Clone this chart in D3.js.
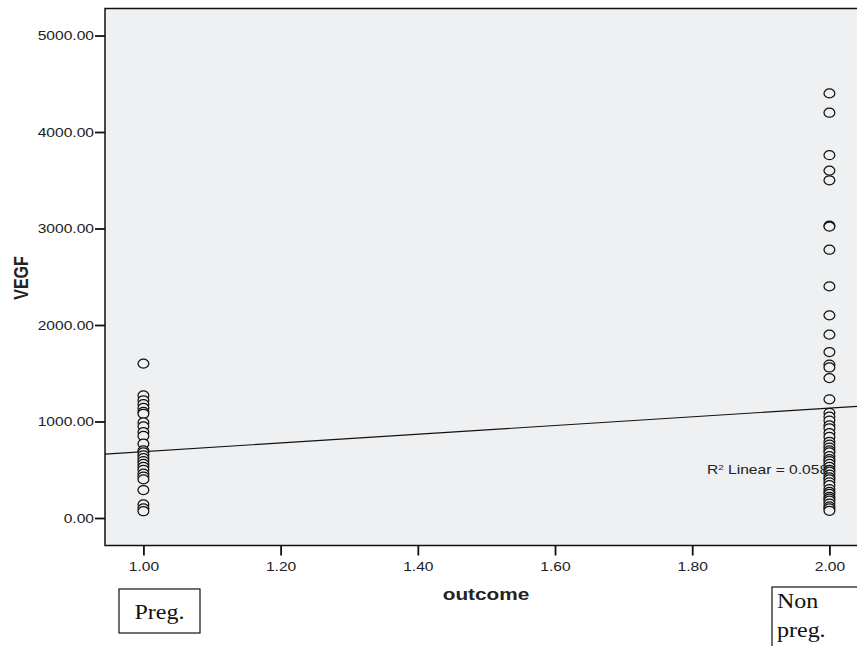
<!DOCTYPE html>
<html>
<head>
<meta charset="utf-8">
<script src="https://cdn.jsdelivr.net/npm/d3@7"></script>
<style>
  body { margin: 0; background: #fff; }
  .tick text { font-family: "Liberation Sans", Arial, sans-serif; font-size: 13px; fill: #222; }
  .axis-label { font-family: "Liberation Sans", Arial, sans-serif; font-weight: bold; font-size: 16px; fill: #222; }
  .box-text { font-family: "Liberation Serif", "Times New Roman", serif; font-size: 20px; fill: #111; }
</style>
</head>
<body>
<div id="chart"></div>
<script>
// DATA
const outcomeTicks = [1.0, 1.2, 1.4, 1.6, 1.8, 2.0];
const vegfTicks = [0, 1000, 2000, 3000, 4000, 5000];

// VEGF values, outcome = 1 (Preg.)
const vegfPreg = [1600, 1270, 1220, 1180, 1140, 1100, 1080, 990, 950, 890, 850, 770,
    700, 680, 650, 620, 590, 560, 530, 500, 460, 430, 400, 290, 140, 100, 70];

// VEGF values, outcome = 2 (Non preg.)
const vegfNonPreg = [4400, 4200, 3760, 3600, 3500, 3030, 3020, 2780, 2400, 2100, 1900,
    1720, 1590, 1560, 1450, 1230, 1090, 1050, 1010, 960, 930, 880, 840, 790, 760, 730,
    700, 680, 640, 610, 590, 560, 530, 500, 480, 450, 420, 400, 370, 340, 300, 270, 250,
    220, 200, 180, 150, 120, 100, 75];

// fit line (value at outcome 1 and 2)
const fitX = [1, 2];
const fitY = [687, 1139];
const r2Text = "0.058";

// SIZES
const margin = { top: 8.5, left: 105 };
const width = 770;
const height = 537;
const bg = "#eff0f2";
const sx = 1.2; // the original figure is stretched sideways

const svg = d3.select("#chart")
    .append("svg")
    .attr("width", 857)
    .attr("height", 646);

const g = svg.append("g")
    .attr("transform", `translate(${margin.left},${margin.top})`);

// SCALES
const x = d3.scaleLinear()
    .domain([0.944, 0.944 + width / 686])
    .range([0, width]);

const y = d3.scaleLinear()
    .domain([-285, 5280])
    .range([height, 0]);

// plot background
g.append("rect")
    .attr("width", width)
    .attr("height", height)
    .attr("fill", bg);

g.append("clipPath").attr("id", "clip")
    .append("rect").attr("width", width).attr("height", height);

// fit line
const slope = (fitY[1] - fitY[0]) / (fitX[1] - fitX[0]);
const [x0, x1] = x.domain();
g.append("line")
    .attr("clip-path", "url(#clip)")
    .attr("x1", x(x0)).attr("y1", y(fitY[0] + slope * (x0 - fitX[0])))
    .attr("x2", x(x1)).attr("y2", y(fitY[0] + slope * (x1 - fitX[0])))
    .attr("stroke", "#111")
    .attr("stroke-width", 1.1);

// R2 label
const r2 = svg.append("text")
    .attr("transform", `translate(707,474) scale(1.3,1)`)
    .attr("font-family", "Liberation Sans, Arial, sans-serif")
    .attr("font-size", 12)
    .attr("fill", "#222");
r2.append("tspan").text("R");
r2.append("tspan").attr("font-size", 7.5).attr("dy", -4.5).text("2");
r2.append("tspan").attr("dy", 4.5).text(" Linear = " + r2Text);

// points
const points = vegfPreg.map(v => ({ o: 1, v }))
    .concat(vegfNonPreg.map(v => ({ o: 2, v })));

g.selectAll(".pt")
    .data(points)
    .enter()
    .append("ellipse")
    .attr("class", "pt")
    .attr("cx", d => x(d.o))
    .attr("cy", d => y(d.v))
    .attr("rx", 5.4)
    .attr("ry", 4.5)
    .attr("fill", bg)
    .attr("stroke", "#111")
    .attr("stroke-width", 1.25);

// frame
g.append("rect")
    .attr("width", width)
    .attr("height", height)
    .attr("fill", "none")
    .attr("stroke", "#111")
    .attr("stroke-width", 1.5);

// AXES
const yAxis = g.append("g")
    .call(d3.axisLeft(y)
        .tickValues(vegfTicks)
        .tickSize(10)
        .tickFormat(d3.format(".2f")));
yAxis.select(".domain").remove();
yAxis.selectAll("line").attr("stroke", "#111").attr("stroke-width", 1.8);
yAxis.selectAll("text")
    .attr("x", 0)
    .attr("transform", `translate(-11,0) scale(${sx},1)`);

const xAxis = g.append("g")
    .attr("transform", `translate(0,${height})`)
    .call(d3.axisBottom(x)
        .tickValues(outcomeTicks)
        .tickSize(10)
        .tickPadding(6)
        .tickFormat(d3.format(".2f")));
xAxis.select(".domain").remove();
xAxis.selectAll("line").attr("stroke", "#111").attr("stroke-width", 1.8);
xAxis.selectAll("text")
    .attr("transform", `scale(${sx},1)`);

// LABELS
svg.append("text")
    .attr("class", "axis-label")
    .attr("transform", `translate(28,278) scale(1.3,1) rotate(-90)`)
    .attr("text-anchor", "middle")
    .text("VEGF");

svg.append("text")
    .attr("class", "axis-label")
    .attr("transform", `translate(486,600) scale(1.3,1)`)
    .attr("text-anchor", "middle")
    .text("outcome");

// group boxes
svg.append("rect")
    .attr("x", 119).attr("y", 589)
    .attr("width", 81).attr("height", 44)
    .attr("fill", "#fff").attr("stroke", "#111").attr("stroke-width", 1.2);
svg.append("text")
    .attr("class", "box-text")
    .attr("transform", `translate(159.5,619) scale(1.2,1)`)
    .attr("text-anchor", "middle")
    .text("Preg.");

svg.append("rect")
    .attr("x", 772).attr("y", 587)
    .attr("width", 100).attr("height", 80)
    .attr("fill", "#fff").attr("stroke", "#111").attr("stroke-width", 1.2);
svg.append("text")
    .attr("class", "box-text")
    .attr("transform", `translate(777,608) scale(1.2,1)`)
    .text("Non");
svg.append("text")
    .attr("class", "box-text")
    .attr("transform", `translate(777,637) scale(1.2,1)`)
    .text("preg.");
</script>
</body>
</html>
